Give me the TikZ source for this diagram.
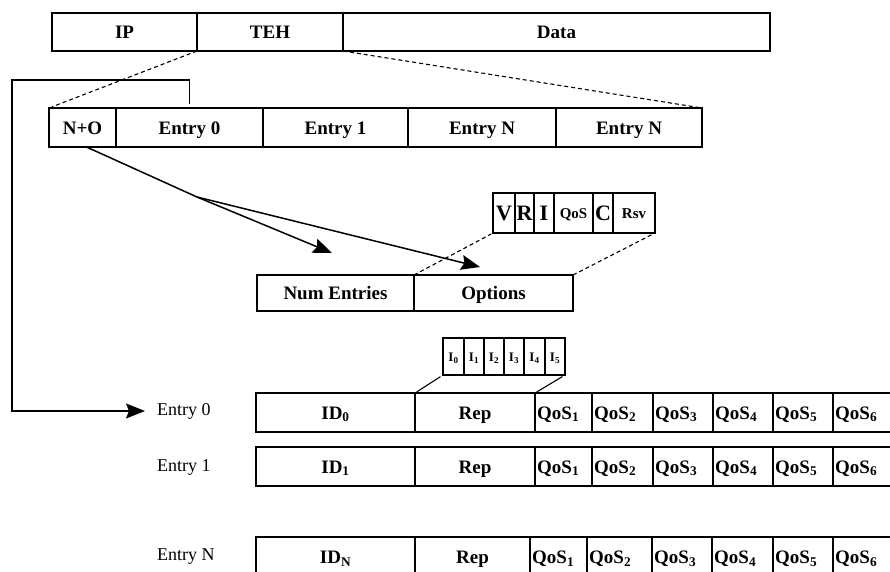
\documentclass[tikz,border=0pt]{standalone}
\usepackage{fontspec}
\setmainfont{Liberation Serif}
\usetikzlibrary{arrows.meta}
\newcommand\bx{\fontsize{19}{22}\selectfont\bfseries}
\newcommand\rg{\fontsize{18}{21}\selectfont}
\newcommand\bigf{\fontsize{22}{24}\selectfont\bfseries}
\newcommand\smf{\fontsize{15}{17}\selectfont\bfseries}
\newcommand\tnf{\fontsize{13}{15}\selectfont\bfseries}
\begin{document}
\begin{tikzpicture}[x=1pt,y=-1pt,
  cell/.style={draw, line width=1.1pt, inner sep=0pt, outer sep=0pt, anchor=north west, font=\bx, text height=13pt, text depth=0pt},
  sz/.style 2 args={minimum width=#1pt, minimum height=#2pt},
  ql/.style={label={[anchor=west,inner sep=2pt,font=\bx,text height=13pt,text depth=0pt]west:#1}},
  dsh/.style={line width=1.1pt, dash pattern=on 4pt off 3pt},
  lnk/.style={line width=1.1pt},
  big/.style={-{Stealth[length=19pt,width=15pt,inset=3pt]}, line width=1.5pt},
  lab/.style={anchor=west, inner sep=0pt, font=\rg}]
\useasboundingbox (0,0) rectangle (890,571);
\clip (0,0) rectangle (890,571);

% top row
\node[cell, sz={145}{38}] (ip) at (52,13) {IP};
\node[cell, sz={146}{38}] (teh) at (ip.north east) {TEH};
\node[cell, sz={427}{38}] (data) at (teh.north east) {Data};

% TEH row
\node[cell, sz={67}{39}] (no) at (49,108) {N+O};
\node[cell, sz={147}{39}] (e0) at (no.north east) {Entry 0};
\node[cell, sz={145}{39}] (e1) at (e0.north east) {Entry 1};
\node[cell, sz={148}{39}] (en) at (e1.north east) {Entry N};
\node[cell, sz={146}{39}] (en2) at (en.north east) {Entry N};

\draw[dsh, shorten >=3pt] (teh.south west) -- (no.north west);
\draw[dsh, shorten >=3pt] (teh.south east) -- (en2.north east);

% N+O row
\node[cell, sz={157}{36}] (ne) at (257,275) {Num Entries};
\node[cell, sz={159}{36}] (opt) at (ne.north east) {Options};

% option bits
\node[cell, sz={22}{40}, font=\bigf, text height=15pt] (v) at (493,193) {V};
\node[cell, sz={19}{40}, font=\bigf, text height=15pt] (r) at (v.north east) {R};
\node[cell, sz={20}{40}, font=\bigf, text height=15pt] (i) at (r.north east) {I};
\node[cell, sz={39}{40}, font=\smf, text height=11pt] (qs) at (i.north east) {QoS};
\node[cell, sz={20}{40}, font=\bigf, text height=15pt] (c) at (qs.north east) {C};
\node[cell, sz={42}{40}, font=\smf, text height=11pt] (rsv) at (c.north east) {Rsv};

\draw[dsh, shorten >=2pt] (opt.north west) -- (v.south west);
\draw[dsh, shorten >=2pt] (opt.north east) -- (rsv.south east);

% arrows from N+O
\coordinate (br) at (197,197);
\coordinate (t1) at (332,253);
\coordinate (t2) at (480,267);
\draw[line width=1.5pt] ([xshift=4pt]no.south) -- (br);
\draw[big] (br) -- (t1);
\draw[big] (br) -- (t2);

% interface bits
\node[cell, sz={21}{37}, font=\tnf, text height=10pt] (b0) at (443,338) {I\textsubscript{0}};
\node[cell, sz={20}{37}, font=\tnf, text height=10pt] (b1) at (b0.north east) {I\textsubscript{1}};
\node[cell, sz={20}{37}, font=\tnf, text height=10pt] (b2) at (b1.north east) {I\textsubscript{2}};
\node[cell, sz={20}{37}, font=\tnf, text height=10pt] (b3) at (b2.north east) {I\textsubscript{3}};
\node[cell, sz={21}{37}, font=\tnf, text height=10pt] (b4) at (b3.north east) {I\textsubscript{4}};
\node[cell, sz={20}{37}, font=\tnf, text height=10pt] (b5) at (b4.north east) {I\textsubscript{5}};

% entry labels
\node[lab] (l0) at (157,411) {Entry 0};
\node[lab] (l1) at (157,467) {Entry 1};
\node[lab] (ln) at (157,557) {Entry N};

% entry 0 row
\node[cell, sz={159}{39}] (id0) at (256,393) {ID\textsubscript{0}};
\node[cell, sz={120}{39}] (rep0) at (id0.north east) {Rep};
\node[cell, sz={57}{39}, ql={QoS\textsubscript{1}}] (a1) at (rep0.north east) {};
\node[cell, sz={61}{39}, ql={QoS\textsubscript{2}}] (a2) at (a1.north east) {};
\node[cell, sz={60}{39}, ql={QoS\textsubscript{3}}] (a3) at (a2.north east) {};
\node[cell, sz={60}{39}, ql={QoS\textsubscript{4}}] (a4) at (a3.north east) {};
\node[cell, sz={60}{39}, ql={QoS\textsubscript{5}}] (a5) at (a4.north east) {};
\node[cell, sz={70}{39}, ql={QoS\textsubscript{6}}] (a6) at (a5.north east) {};

% entry 1 row
\node[cell, sz={159}{39}] (id1) at (256,447) {ID\textsubscript{1}};
\node[cell, sz={120}{39}] (rep1) at (id1.north east) {Rep};
\node[cell, sz={57}{39}, ql={QoS\textsubscript{1}}] (b1q) at (rep1.north east) {};
\node[cell, sz={61}{39}, ql={QoS\textsubscript{2}}] (b2q) at (b1q.north east) {};
\node[cell, sz={60}{39}, ql={QoS\textsubscript{3}}] (b3q) at (b2q.north east) {};
\node[cell, sz={60}{39}, ql={QoS\textsubscript{4}}] (b4q) at (b3q.north east) {};
\node[cell, sz={60}{39}, ql={QoS\textsubscript{5}}] (b5q) at (b4q.north east) {};
\node[cell, sz={70}{39}, ql={QoS\textsubscript{6}}] (b6q) at (b5q.north east) {};

% entry N row
\node[cell, sz={159}{40}] (idn) at (256,537) {ID\textsubscript{N}};
\node[cell, sz={115}{40}] (repn) at (idn.north east) {Rep};
\node[cell, sz={57}{40}, ql={QoS\textsubscript{1}}] (n1) at (repn.north east) {};
\node[cell, sz={65}{40}, ql={QoS\textsubscript{2}}] (n2) at (n1.north east) {};
\node[cell, sz={60}{40}, ql={QoS\textsubscript{3}}] (n3) at (n2.north east) {};
\node[cell, sz={61}{40}, ql={QoS\textsubscript{4}}] (n4) at (n3.north east) {};
\node[cell, sz={60}{40}, ql={QoS\textsubscript{5}}] (n5) at (n4.north east) {};
\node[cell, sz={70}{40}, ql={QoS\textsubscript{6}}] (n6) at (n5.north east) {};

% links from interface bits to Rep
\draw[lnk, shorten <=3pt, shorten >=2pt] (b0.south west) -- (rep0.north west);
\draw[lnk, shorten <=3pt, shorten >=2pt] (b5.south east) -- (rep0.north east);

% bracket from Entry 0 field to Entry 0 row
\coordinate (k1) at (12,80);
\draw[big, shorten >=12pt] ([yshift=4pt]e0.north) |- (k1) |- (l0.west);
\end{tikzpicture}
\end{document}
